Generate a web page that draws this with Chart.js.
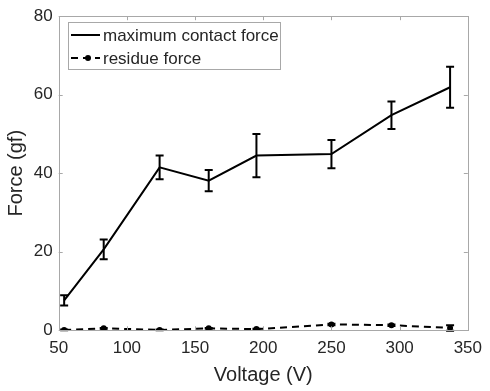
<!DOCTYPE html>
<html>
<head>
<meta charset="utf-8">
<script src="https://cdn.jsdelivr.net/npm/chart.js@4"></script>
<style>
html,body{margin:0;padding:0;background:#fff;}
#wrap{width:490px;height:391px;position:relative;}
</style>
</head>
<body>
<div id="wrap"><canvas id="c" width="490" height="391"></canvas></div>
<script>
const voltage = [54, 83, 124, 160, 195, 250, 294, 337];
const maxForce = [7.6, 20.6, 41.5, 38.1, 44.5, 44.9, 54.8, 61.9];
const maxForceErr = [1.3, 2.5, 3.0, 2.7, 5.5, 3.6, 3.5, 5.2];
const residueForce = [0.1, 0.5, 0.1, 0.5, 0.3, 1.5, 1.3, 0.6];
const residueErr = [0.1, 0.1, 0.1, 0.1, 0.1, 0.2, 0.2, 0.7];
const xTicks = [50, 100, 150, 200, 250, 300, 350];
const yTicks = [0, 20, 40, 60, 80];
const seriesLabels = ['maximum contact force', 'residue force'];

const TEXT = '#262626';
const BOX = '#a8a8a8';
const FONT = "'Liberation Sans', Arial, sans-serif";

const errorBars = {
  id: 'errorBars',
  afterDatasetsDraw(chart) {
    const ctx = chart.ctx, xs = chart.scales.x, ys = chart.scales.y;
    chart.data.datasets.forEach((ds, di) => {
      const errs = ds.errors; if (!errs) return;
      ctx.save();
      ctx.strokeStyle = '#000'; ctx.lineWidth = 2; ctx.setLineDash([]);
      ds.data.forEach((p, i) => {
        const x = xs.getPixelForValue(p.x);
        const y1 = ys.getPixelForValue(p.y - errs[i]);
        const y2 = ys.getPixelForValue(p.y + errs[i]);
        const cw = 4;
        ctx.beginPath();
        ctx.moveTo(x, y1); ctx.lineTo(x, y2);
        ctx.moveTo(x - cw, y1); ctx.lineTo(x + cw, y1);
        ctx.moveTo(x - cw, y2); ctx.lineTo(x + cw, y2);
        ctx.stroke();
      });
      ctx.restore();
    });
  }
};

const frame = {
  id: 'frame',
  afterDraw(chart) {
    const ctx = chart.ctx, a = chart.chartArea, xs = chart.scales.x, ys = chart.scales.y;
    ctx.save();
    ctx.strokeStyle = BOX; ctx.lineWidth = 1; ctx.setLineDash([]);
    ctx.strokeRect(Math.round(a.left) + 0.5, Math.round(a.top) + 0.5, Math.round(a.right - a.left), Math.round(a.bottom - a.top));
    const tl = 4;
    ctx.beginPath();
    xTicks.forEach(v => {
      const x = Math.round(xs.getPixelForValue(v)) + 0.5;
      ctx.moveTo(x, a.bottom); ctx.lineTo(x, a.bottom - tl);
      ctx.moveTo(x, a.top); ctx.lineTo(x, a.top + tl);
    });
    yTicks.forEach(v => {
      const y = Math.round(ys.getPixelForValue(v)) + 0.5;
      ctx.moveTo(a.left, y); ctx.lineTo(a.left + tl, y);
      ctx.moveTo(a.right, y); ctx.lineTo(a.right - tl, y);
    });
    ctx.stroke();

    // legend
    const lx = 68, ly = 22, lw = 212, lh = 47;
    ctx.fillStyle = '#fff';
    ctx.fillRect(lx, ly, lw, lh);
    ctx.strokeStyle = BOX;
    ctx.strokeRect(lx + 0.5, ly + 0.5, lw, lh);
    const rows = [35, 58];
    ctx.strokeStyle = '#000'; ctx.lineWidth = 2;
    ctx.beginPath(); ctx.moveTo(71, rows[0]); ctx.lineTo(100, rows[0]); ctx.stroke();
    ctx.setLineDash([7, 5]);
    ctx.beginPath(); ctx.moveTo(71, rows[1]); ctx.lineTo(100, rows[1]); ctx.stroke();
    ctx.setLineDash([]);
    ctx.fillStyle = '#000';
    ctx.beginPath(); ctx.arc(88, rows[1], 3, 0, Math.PI * 2); ctx.fill();
    ctx.fillStyle = TEXT;
    ctx.font = '17px ' + FONT;
    ctx.textBaseline = 'middle'; ctx.textAlign = 'left';
    ctx.fillText(chart.data.datasets[0].label, 103, rows[0] + 1);
    ctx.fillText(chart.data.datasets[1].label, 103, rows[1] + 1);
    ctx.restore();
  }
};

new Chart(document.getElementById('c'), {
  type: 'line',
  data: {
    datasets: [
      {
        label: seriesLabels[0],
        data: voltage.map((v, i) => ({x: v, y: maxForce[i]})),
        errors: maxForceErr,
        borderColor: '#000', borderWidth: 2, pointRadius: 0, tension: 0, fill: false
      },
      {
        label: seriesLabels[1],
        data: voltage.map((v, i) => ({x: v, y: residueForce[i]})),
        errors: residueErr,
        borderColor: '#000', borderWidth: 2, borderDash: [7, 5],
        pointRadius: 3, pointBackgroundColor: '#000', pointBorderColor: '#000', pointBorderWidth: 0,
        tension: 0, fill: false
      }
    ]
  },
  options: {
    responsive: false, animation: false, devicePixelRatio: 1,
    layout: {padding: {top: 12, right: 16, left: 0, bottom: 0}},
    plugins: {legend: {display: false}, tooltip: {enabled: false}},
    scales: {
      x: {
        type: 'linear', min: 50, max: 350,
        afterBuildTicks: s => { s.ticks = xTicks.map(v => ({value: v})); },
        afterFit: s => { s.height = 60.7; },
        grid: {display: false, drawTicks: false},
        border: {display: false},
        ticks: {color: TEXT, font: {family: FONT, size: 17}, padding: 8, maxRotation: 0, autoSkip: false},
        title: {display: true, text: 'Voltage (V)', color: TEXT, font: {family: FONT, size: 20}, padding: {top: 0, bottom: 4}}
      },
      y: {
        type: 'linear', min: 0, max: 80,
        afterBuildTicks: s => { s.ticks = yTicks.map(v => ({value: v})); },
        afterFit: s => { s.width = 58.7; },
        grid: {display: false, drawTicks: false},
        border: {display: false},
        ticks: {color: TEXT, font: {family: FONT, size: 17}, padding: 6},
        title: {display: true, text: 'Force (gf)', color: TEXT, font: {family: FONT, size: 20}, padding: {top: 4, bottom: 0}}
      }
    }
  },
  plugins: [errorBars, frame]
});
</script>
</body>
</html>
